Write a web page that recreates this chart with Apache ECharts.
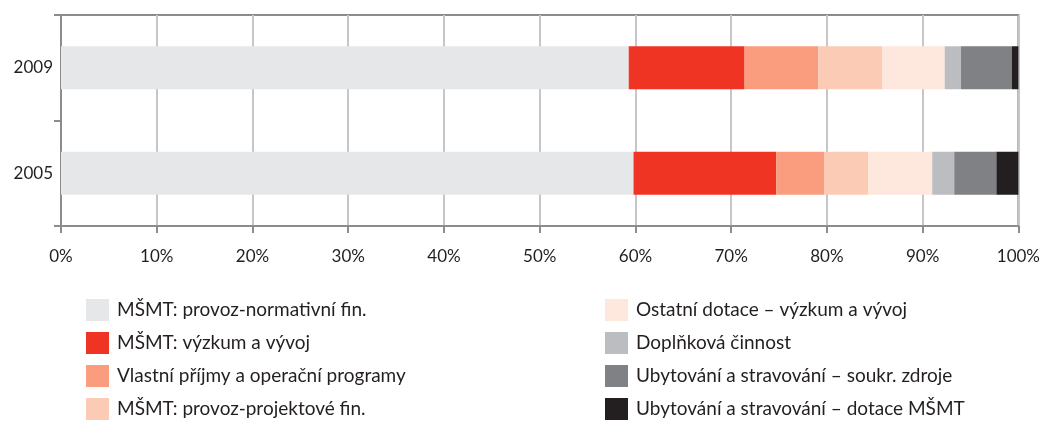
<!DOCTYPE html>
<html><head><meta charset="utf-8">
<script src="https://cdn.jsdelivr.net/npm/echarts@6/dist/echarts.min.js"></script>
<style>html,body{margin:0;padding:0;background:#fff}#c{width:1043px;height:421px}</style>
</head><body><div id="c"></div>
<script>
const categories = ['2005', '2009'];
const seriesNames = [
  'MŠMT: provoz-normativní fin.',
  'MŠMT: výzkum a vývoj',
  'Vlastní příjmy a operační programy',
  'MŠMT: provoz-projektové fin.',
  'Ostatní dotace – výzkum a vývoj',
  'Doplňková činnost',
  'Ubytování a stravování – soukr. zdroje',
  'Ubytování a stravování – dotace MŠMT'
];
// values per series: [2005, 2009]
const v_normativni = [59.8, 59.3];
const v_vyzkum = [14.9, 12.1];
const v_vlastni = [5.0, 7.7];
const v_projektove = [4.6, 6.7];
const v_ostatni = [6.7, 6.5];
const v_doplnkova = [2.3, 1.7];
const v_soukr = [4.4, 5.3];
const v_dotaceMSMT = [2.3, 0.7];
const xTicks = [0, 10, 20, 30, 40, 50, 60, 70, 80, 90, 100];

const values = [v_normativni, v_vyzkum, v_vlastni, v_projektove, v_ostatni, v_doplnkova, v_soukr, v_dotaceMSMT];
const colors = ['#e6e7e8', '#ef3424', '#f99d7e', '#fbcbb5', '#fee7dc', '#bcbdc0', '#808184', '#231f20'];
const font = 'Lato, "Open Sans", sans-serif';

const chart = echarts.init(document.getElementById('c'));
const legendBase = {
  orient: 'vertical', top: 299, height: 122, itemWidth: 23, itemHeight: 22, itemGap: 11,
  icon: 'rect', padding: 0,
  textStyle: { color: '#231f20', fontSize: 19, fontFamily: font, padding: [0, 0, 0, 3] }
};
chart.setOption({
  animation: false,
  grid: { left: 61, right: 23, top: 15, bottom: 195, show: true, borderColor: '#8c8c8e', borderWidth: 2 },
  xAxis: {
    type: 'value', min: xTicks[0], max: xTicks[xTicks.length - 1], interval: 10,
    axisLine: { show: true, lineStyle: { color: '#8c8c8e', width: 2 } },
    axisTick: { show: true, length: 7, lineStyle: { color: '#8c8c8e', width: 2 } },
    splitLine: { show: true, lineStyle: { color: '#c6c6c9', width: 2 } },
    axisLabel: { formatter: '{value}%', color: '#231f20', fontSize: 17, fontFamily: font, margin: 22 }
  },
  yAxis: {
    type: 'category', data: categories,
    axisLine: { show: true, lineStyle: { color: '#8c8c8e', width: 2 } },
    axisTick: { show: true, length: 7, lineStyle: { color: '#8c8c8e', width: 2 } },
    axisLabel: { color: '#231f20', fontSize: 17, fontFamily: font, margin: 8 }
  },
  legend: [
    Object.assign({}, legendBase, { left: 86, data: seriesNames.slice(0, 4) }),
    Object.assign({}, legendBase, { left: 605, data: seriesNames.slice(4) })
  ],
  series: seriesNames.map((n, i) => ({
    name: n, type: 'bar', stack: 'total', data: values[i], barWidth: 43,
    itemStyle: { color: colors[i] }
  }))
});
</script></body></html>
